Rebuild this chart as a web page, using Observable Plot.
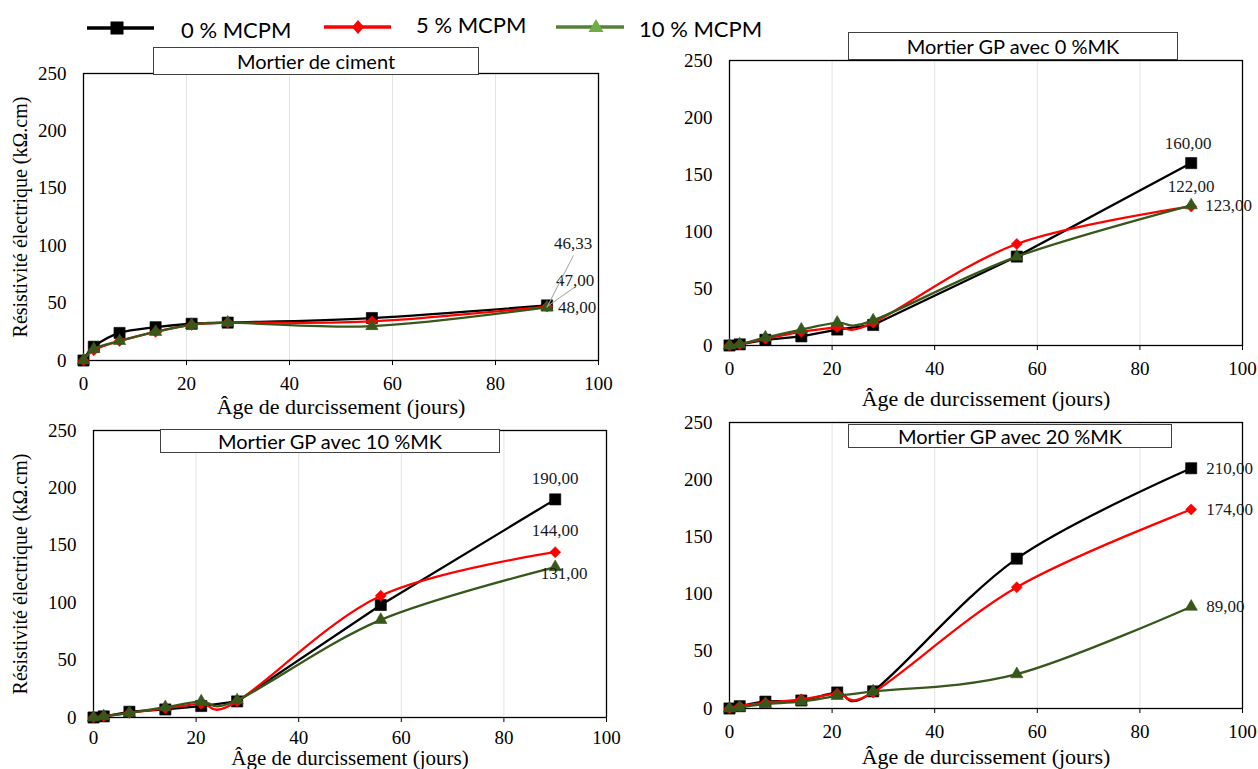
<!DOCTYPE html>
<html>
<head>
<meta charset="utf-8">
<script src="https://cdn.jsdelivr.net/npm/d3@7"></script>
<script src="https://cdn.jsdelivr.net/npm/@observablehq/plot@0.6"></script>
<style>
  body { margin: 0; background: #fff; }
  #root { position: relative; width: 1258px; height: 769px; overflow: hidden; background: #fff; }
  .panel { position: absolute; }
  .tbox { position: absolute; box-sizing: border-box; border: 1.5px solid #404040; background: #fff;
          font-family: Lato, "Liberation Sans", sans-serif; font-size: 20px; color: #000;
          display: flex; align-items: center; justify-content: center; z-index: 5; white-space: nowrap; }
  #legend { position: absolute; left: 0; top: 0; z-index: 6; }
</style>
</head>
<body>
<div id="root"></div>
<script>
// ---------------- data ----------------
const days = [0, 2, 7, 14, 21, 28, 56, 90];
const seriesNames = ["0 % MCPM", "5 % MCPM", "10 % MCPM"];
const panelTitles = ["Mortier de ciment", "Mortier GP avec 0 %MK", "Mortier GP avec 10 %MK", "Mortier GP avec 20 %MK"];
const xTitle = "Âge de durcissement (jours)";
const yTitle = "Résistivité électrique (kΩ.cm)";
const xTicks = [0, 20, 40, 60, 80, 100];
const yTicks = [0, 50, 100, 150, 200, 250];

const cimentMCPM0  = [0, 12, 24, 29, 32, 33, 37, 48];
const cimentMCPM5  = [0, 9, 17, 25, 31, 33, 34, 47];
const cimentMCPM10 = [0, 10, 17, 25, 31, 33, 30, 46.33];

const mk0MCPM0  = [0, 1, 5, 8, 14, 18, 78, 160];
const mk0MCPM5  = [0, 1, 6, 12, 16, 20, 89, 122];
const mk0MCPM10 = [0, 1, 7, 14, 20, 22, 78, 123];

const mk10MCPM0  = [0, 1, 5, 7, 10, 14, 98, 190];
const mk10MCPM5  = [0, 1, 4, 8, 12, 14, 106, 144];
const mk10MCPM10 = [0, 1, 4, 9, 14, 15, 85, 131];

const mk20MCPM0  = [0, 2, 6, 7, 14, 15, 131, 210];
const mk20MCPM5  = [0, 2, 5, 8, 13, 14, 106, 174];
const mk20MCPM10 = [0, 1, 4, 6, 11, 15, 30, 89];

// ---------------- styles ----------------
const serif = "Liberation Serif";
const seriesStyle = [
  {color: "#000000", symbol: "square", r: 6.3},
  {color: "#ff0000", symbol: "diamond2", r: 5},
  {color: "#38571a", symbol: "triangle", r: 4.6}
];

const fmt = v => v.toFixed(2).replace(".", ",");
const leaderShape = { draw(context, l) { context.moveTo(0, 0); context.lineTo(0, -l); } };

const panels = [
  {
    values: [cimentMCPM0, cimentMCPM5, cimentMCPM10], title: panelTitles[0],
    left: 0, top: 40, width: 640, height: 380, mt: 33, mr: 42, mb: 60, ml: 83,
    xTitleDy: 46, xTitleSize: 22, yTitleDx: 63, xTickDy: 23,
    curves: ["cardinal", "cardinal", "cardinal"],
    labels: [
      {anchor: "start", dx: 11, dy: 2},
      {anchor: "start", dx: 9, dy: -26, leader: {length: 33, rotate: 55}},
      {anchor: "start", dx: 7, dy: -64, leader: {length: 58, rotate: 27}}
    ],
    box: {left: 153, top: 47, width: 326, height: 28}
  },
  {
    values: [mk0MCPM0, mk0MCPM5, mk0MCPM10], title: panelTitles[1],
    left: 640, top: 20, width: 618, height: 390, mt: 40, mr: 16, mb: 65, ml: 89,
    xTitleDy: 53, xTitleSize: 22, yTitleDx: null, xTickDy: 23,
    curves: ["linear", "cardinal", "cardinal"],
    labels: [
      {anchor: "middle", dx: -3, dy: -20},
      {anchor: "middle", dx: 0, dy: -20},
      {anchor: "start", dx: 14, dy: 0}
    ],
    box: {left: 848, top: 32, width: 330, height: 28}
  },
  {
    values: [mk10MCPM0, mk10MCPM5, mk10MCPM10], title: panelTitles[2],
    left: 0, top: 420, width: 640, height: 349, mt: 10, mr: 34, mb: 52, ml: 93,
    xTitleDy: 40.5, xTitleSize: 21, yTitleDx: 73, xTickDy: 20,
    curves: ["linear", "cardinal", "cardinal"],
    labels: [
      {anchor: "middle", dx: 0, dy: -21},
      {anchor: "middle", dx: 0, dy: -22},
      {anchor: "middle", dx: 9, dy: 6}
    ],
    box: {left: 160, top: 429, width: 340, height: 24}
  },
  {
    values: [mk20MCPM0, mk20MCPM5, mk20MCPM10], title: panelTitles[3],
    left: 640, top: 410, width: 618, height: 359, mt: 12, mr: 16, mb: 61, ml: 89,
    xTitleDy: 48, xTitleSize: 22, yTitleDx: null, xTickDy: 23,
    curves: ["cardinal", "cardinal", "cardinal"],
    labels: [
      {anchor: "start", dx: 15, dy: 0},
      {anchor: "start", dx: 15, dy: 0},
      {anchor: "start", dx: 15, dy: 0}
    ],
    box: {left: 848, top: 424, width: 324, height: 24}
  }
];

const root = document.getElementById("root");

panels.forEach(p => {
  const marks = [
    Plot.gridX(xTicks.slice(1, -1), {stroke: "#e4e4e4", strokeOpacity: 1, strokeWidth: 1}),
    Plot.axisX(xTicks, {tickSize: 5, fill: "none", label: null, stroke: "#000"}),
    Plot.text(xTicks, {x: d => d, frameAnchor: "bottom", dy: p.xTickDy, text: d => String(d),
      textAnchor: "middle", lineAnchor: "middle", fontSize: 19, fontFamily: serif, fontVariant: "normal", fill: "#000"}),
    Plot.text(yTicks, {y: d => d, frameAnchor: "left", dx: -17, text: d => String(d),
      textAnchor: "end", lineAnchor: "middle", fontSize: 19, fontFamily: serif, fontVariant: "normal", fill: "#000"}),
    Plot.frame({stroke: "#000", strokeWidth: 1.3}),
    Plot.text([xTitle], {text: d => d, frameAnchor: "bottom", dy: p.xTitleDy, fontSize: p.xTitleSize,
      fontFamily: serif, textAnchor: "middle", lineAnchor: "middle", fill: "#000"})
  ];
  if (p.yTitleDx != null) {
    marks.push(Plot.text([yTitle], {text: d => d, frameAnchor: "left", dx: -p.yTitleDx, rotate: -90,
      fontSize: 20, fontFamily: serif, fontVariant: "normal", textAnchor: "middle", lineAnchor: "middle", fill: "#000"}));
  }
  p.values.forEach((vals, i) => {
    const st = seriesStyle[i];
    const rows = days.map((d, j) => ({day: d, value: vals[j]}));
    marks.push(Plot.line(rows, {x: "day", y: "value", stroke: st.color, strokeWidth: 2.3, curve: p.curves[i]}));
    marks.push(Plot.dot(rows, {x: "day", y: "value", symbol: st.symbol, r: st.r, fill: st.color, stroke: st.color, strokeWidth: 0.6}));
  });
  p.values.forEach((vals, i) => {
    const lab = p.labels[i];
    const last = [{day: days[days.length - 1], value: vals[vals.length - 1]}];
    if (lab.leader) {
      marks.push(Plot.vector(last, {x: "day", y: "value", length: lab.leader.length, rotate: lab.leader.rotate,
        anchor: "start", shape: leaderShape, stroke: "#a6a6a6", strokeWidth: 1}));
    }
    marks.push(Plot.text(last, {x: "day", y: "value", text: d => fmt(d.value), textAnchor: lab.anchor,
      dx: lab.dx, dy: lab.dy, fontSize: 17, fontFamily: serif, fontVariant: "normal", fill: "#1a1a1a"}));
  });

  const svg = Plot.plot({
    width: p.width, height: p.height,
    marginTop: p.mt, marginRight: p.mr, marginBottom: p.mb, marginLeft: p.ml,
    x: {domain: [0, 100], axis: null},
    y: {domain: [0, 250], axis: null},
    style: {fontFamily: serif, fontSize: "19px", color: "#000",
            background: "transparent", overflow: "visible"},
    marks
  });
  const div = document.createElement("div");
  div.className = "panel";
  div.style.left = p.left + "px";
  div.style.top = p.top + "px";
  div.style.width = p.width + "px";
  div.style.height = p.height + "px";
  div.appendChild(svg);
  root.appendChild(div);

  const box = document.createElement("div");
  box.className = "tbox";
  box.style.left = p.box.left + "px";
  box.style.top = p.box.top + "px";
  box.style.width = p.box.width + "px";
  box.style.height = p.box.height + "px";
  box.textContent = p.title;
  root.appendChild(box);
});

// ---------------- legend ----------------
const ns = "http://www.w3.org/2000/svg";
const leg = document.createElementNS(ns, "svg");
leg.setAttribute("id", "legend");
leg.setAttribute("width", "800");
leg.setAttribute("height", "48");
const legItems = [
  {x1: 87, x2: 154, y: 28, mx: 117, tx: 181, ty: 29, line: "#000000", mark: "#000000", shape: "square"},
  {x1: 324, x2: 391, y: 27, mx: 358, tx: 416, ty: 24, line: "#ff0000", mark: "#ff0000", shape: "diamond"},
  {x1: 556, x2: 624, y: 27, mx: 596, tx: 639, ty: 28, line: "#548235", mark: "#70ad47", shape: "triangle"}
];
legItems.forEach((it, i) => {
  const ln = document.createElementNS(ns, "line");
  ln.setAttribute("x1", it.x1); ln.setAttribute("x2", it.x2);
  ln.setAttribute("y1", it.y); ln.setAttribute("y2", it.y);
  ln.setAttribute("stroke", it.line); ln.setAttribute("stroke-width", "3.5");
  leg.appendChild(ln);
  const mk = document.createElementNS(ns, "path");
  const s = 6.5;
  let d;
  if (it.shape === "square") d = `M${it.mx - s},${it.y - s}h${2 * s}v${2 * s}h${-2 * s}Z`;
  else if (it.shape === "diamond") d = `M${it.mx},${it.y - 7}L${it.mx + 6},${it.y}L${it.mx},${it.y + 7}L${it.mx - 6},${it.y}Z`;
  else d = `M${it.mx},${it.y - 8}L${it.mx + 7.5},${it.y + 5}L${it.mx - 7.5},${it.y + 5}Z`;
  mk.setAttribute("d", d);
  mk.setAttribute("fill", it.mark);
  leg.appendChild(mk);
  const tx = document.createElementNS(ns, "text");
  tx.setAttribute("x", it.tx); tx.setAttribute("y", it.ty);
  tx.setAttribute("dominant-baseline", "central");
  tx.setAttribute("font-family", "Lato, 'Liberation Sans', sans-serif");
  tx.setAttribute("font-size", "22");
  tx.textContent = seriesNames[i];
  leg.appendChild(tx);
});
root.appendChild(leg);
</script>
</body>
</html>
